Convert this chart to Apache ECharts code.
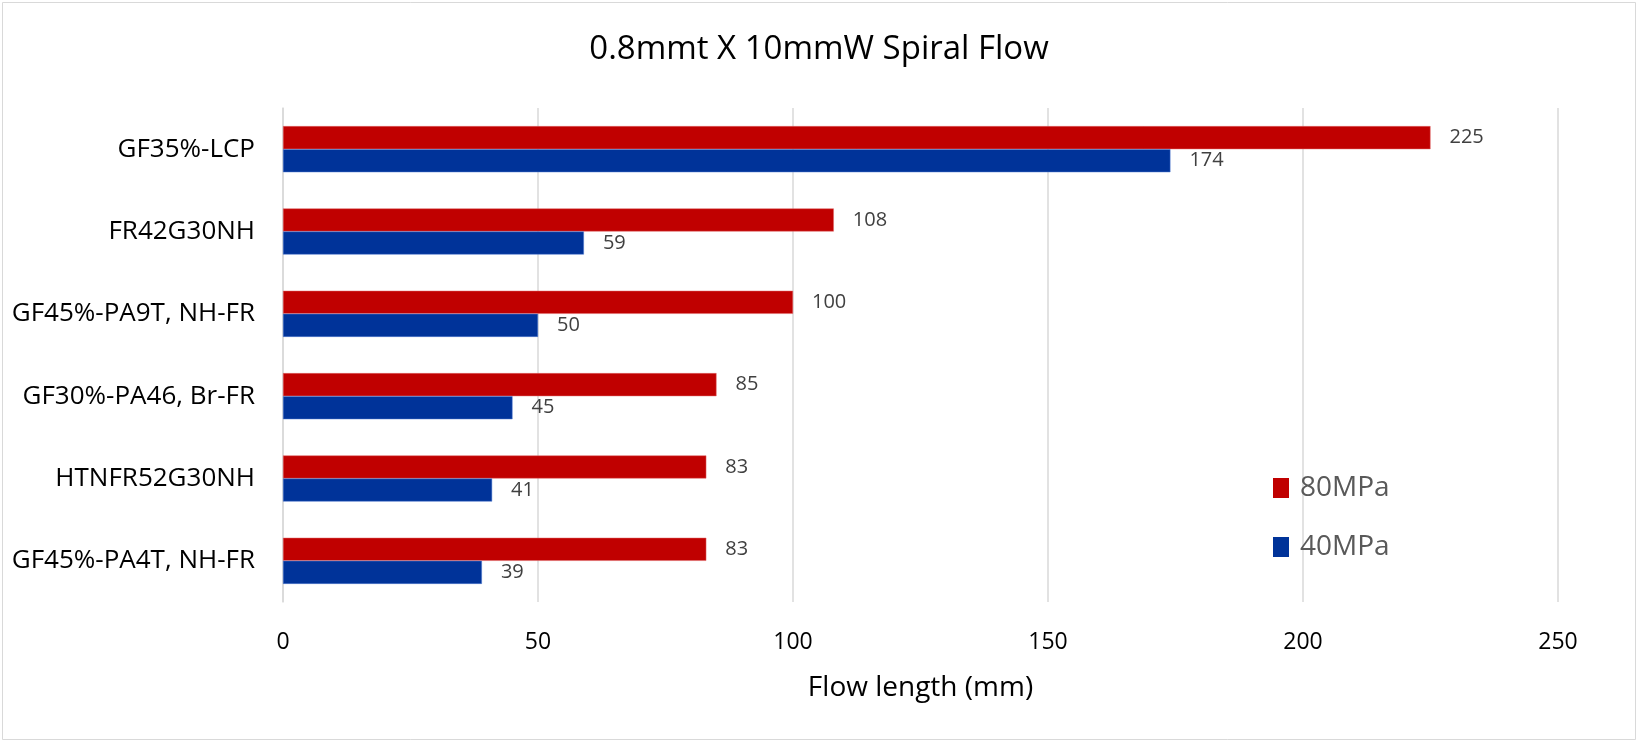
<!DOCTYPE html>
<html>
<head>
<meta charset="utf-8">
<script src="https://cdn.jsdelivr.net/npm/echarts@6/dist/echarts.min.js"></script>
<style>
html,body{margin:0;padding:0;background:#fff;}
#chart{width:1638px;height:742px;}
</style>
</head>
<body>
<div id="chart"></div>
<script>
const categories = ["GF35%-LCP","FR42G30NH","GF45%-PA9T, NH-FR","GF30%-PA46, Br-FR","HTNFR52G30NH","GF45%-PA4T, NH-FR"];
const seriesNames = ["80MPa","40MPa"];
const values80 = [225,108,100,85,83,83];
const values40 = [174,59,50,45,41,39];
const xTicks = {min:0,max:250,interval:50};

const FONT = "'Open Sans', sans-serif";
const chart = echarts.init(document.getElementById('chart'));
chart.setOption({
  backgroundColor:'#ffffff',
  animation:false,
  title:{
    text:'0.8mmt X 10mmW Spiral Flow',
    left:'center', top:28,
    textStyle:{fontFamily:FONT,fontSize:33,fontWeight:'normal',color:'#000000'}
  },
  graphic:[{type:'rect',shape:{x:2.5,y:2.5,width:1633,height:737},style:{fill:'none',stroke:'#d9d9d9',lineWidth:1},silent:true}],
  legend:{
    orient:'vertical',
    left:1268, top:469,
    itemWidth:16, itemHeight:20, itemGap:31,
    icon:'rect',
    itemStyle:{borderWidth:0},
    textStyle:{fontFamily:FONT,fontSize:28,color:'#595959',padding:[0,0,0,6]},
    data:seriesNames
  },
  grid:{left:283,right:80,top:108,bottom:140,containLabel:false},
  xAxis:{
    type:'value',
    min:xTicks.min,max:xTicks.max,interval:xTicks.interval,
    name:'Flow length (mm)',nameLocation:'middle',nameGap:72,
    nameTextStyle:{fontFamily:FONT,fontSize:28,color:'#000000'},
    axisLine:{show:false},axisTick:{show:false},
    axisLabel:{fontFamily:FONT,fontSize:23,color:'#000000',margin:29},
    splitLine:{show:true,lineStyle:{color:'#d9d9d9',width:1.5}}
  },
  yAxis:{
    type:'category',inverse:true,data:categories,
    axisLine:{show:true,lineStyle:{color:'#d9d9d9',width:1.5}},
    axisTick:{show:false},
    axisLabel:{fontFamily:FONT,fontSize:26,color:'#000000',margin:28}
  },
  series:[
    {name:seriesNames[0],type:'bar',data:values80,barGap:'0%',barCategoryGap:'44%',
     itemStyle:{color:'#C00000',borderColor:'#e06666',borderWidth:0.5},
     label:{show:true,position:'right',distance:19,fontFamily:FONT,fontSize:20,color:'#404040'}},
    {name:seriesNames[1],type:'bar',data:values40,barGap:'0%',barCategoryGap:'44%',
     itemStyle:{color:'#003399',borderColor:'#4f7bd0',borderWidth:0.5},
     label:{show:true,position:'right',distance:19,fontFamily:FONT,fontSize:20,color:'#404040'}}
  ]
});
</script>
</body>
</html>
